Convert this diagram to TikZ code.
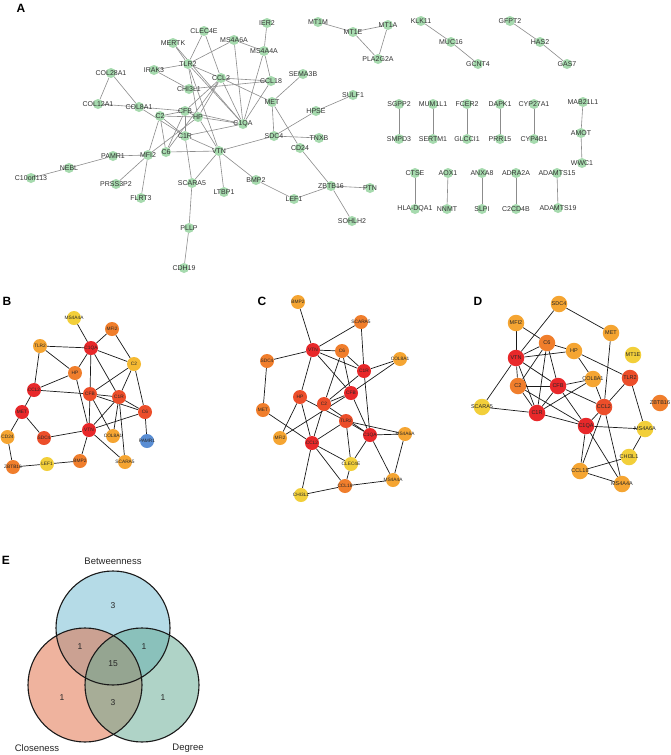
\documentclass[tikz,border=0pt]{standalone}
\usepackage{fontspec}
\setmainfont{Liberation Sans}
\pgfdeclarelayer{bg}
\pgfsetlayers{bg,main}
\definecolor{agreen}{HTML}{A6DAAE}
\definecolor{cR}{HTML}{E8282A}
\definecolor{cRO}{HTML}{EC4E2A}
\definecolor{cO}{HTML}{F07E2C}
\definecolor{cLO}{HTML}{F5A532}
\definecolor{cYO}{HTML}{F5BA32}
\definecolor{cY}{HTML}{F2CF3A}
\definecolor{cB}{HTML}{5A8ED4}
\definecolor{vblue}{HTML}{6DB9D1}
\definecolor{vred}{HTML}{E1693F}
\definecolor{vgreen}{HTML}{61A991}
\begin{document}
\begin{tikzpicture}[x=1pt,y=-1pt,
  acirc/.style={circle,fill=agreen,minimum size=10pt,inner sep=0pt},
  alabel/.style={font=\fontsize{7}{7}\selectfont,text=black!80,inner sep=0pt},
  aedge/.style={draw=black!45,line width=0.6pt},
  bcirc/.style={circle,minimum size=14pt,inner sep=0pt},
  dcirc/.style={circle,minimum size=16.5pt,inner sep=0pt},
  blabel/.style={font=\fontsize{4.8}{4.8}\selectfont,text=black!85,inner sep=0pt},
  dlabel/.style={font=\fontsize{5.5}{5.5}\selectfont,text=black!85,inner sep=0pt},
  nedge/.style={draw=black!90,line width=0.7pt},
  panel/.style={font=\bfseries\fontsize{12}{12}\selectfont,inner sep=0pt},
  vlabel/.style={font=\fontsize{9.5}{9.5}\selectfont,inner sep=0pt,text=black!85},
  vnum/.style={font=\fontsize{8.5}{8.5}\selectfont,inner sep=0pt,text=black!85}]
\useasboundingbox (0,0) rectangle (670,755);
\begin{pgfonlayer}{bg}
\fill[white] (0,0) rectangle (670,755);
\end{pgfonlayer}

% panel letters
\node[panel] (LA) at (21,8) {A};
\node[panel] (LB) at (7,301) {B};
\node[panel] (LC) at (262,301) {C};
\node[panel] (LD) at (478,301) {D};
\node[panel] (LE) at (6,560) {E};

% ---------------- Panel A ----------------
\foreach \n/\x/\y in {CLEC4E/204/31, MERTK/173/43, MS4A6A/234/40, IER2/267/23, MS4A4A/264/51, TLR2/188/64, IRAK3/154/70, COL28A1/111/73, CCL2/221/78, CCL18/271/81, SEMA3B/303/74, CHI3L1/189/89, MET/272/102, SULF1/353/95, COL12A1/98/104, COL8A1/139/107, CFB/185/111, C2/160/116, HP/198/117, C1QA/243/124, HPSE/316/111, C1R/185/136, SDC4/274/136, TNXB/319/138, CD24/300/148, VTN/219/151, C6/166/152, MFI2/148/155, PAMR1/113/156, NEBL/69/168, C10orf113/31/178, PRSS3P2/116/184, SCARA5/192/183, LTBP1/224/192, BMP2/256/180, FLRT3/141/198, LEF1/294/199, ZBTB16/331/186, PTN/370/188, SOHLH2/352/221, PLLP/189/228, CDH19/184/268,
MT1M/318/22, MT1E/353/32, MT1A/388/25, PLA2G2A/378/59, KLK11/421/21, MUC16/451/42, GCNT4/478/64, GFPT2/510/21, HAS2/540/42, GAS7/567/64, SGPP2/399/104, SMPD3/399/139, MUM1L1/433/104, SERTM1/433/139, FCER2/467/104, GLCCI1/467/139, DAPK1/500/104, PRR15/500/139, CYP27A1/534/104, CYP4B1/534/139, MAB21L1/583/102, AMOT/581/133, WWC1/582/163, CTSE/415/173, HLA-DQA1/415/209, AOX1/448/173, NNMT/447/209, ANXA8/482/173, SLPI/482/209, ADRA2A/516/173, C2CD4B/516/209, ADAMTS15/557/173, ADAMTS19/558/208}
  {\node[acirc] (A-\n) at (\x,\y) {};}
\foreach \n/\x/\y in {CLEC4E/204/31, MERTK/173/43, MS4A6A/234/40, IER2/267/23, MS4A4A/264/51, TLR2/188/64, IRAK3/154/70, COL28A1/111/73, CCL2/221/78, CCL18/271/81, SEMA3B/303/74, CHI3L1/189/89, MET/272/102, SULF1/353/95, COL12A1/98/104, COL8A1/139/107, CFB/185/111, C2/160/116, HP/198/117, C1QA/243/124, HPSE/316/111, C1R/185/136, SDC4/274/136, TNXB/319/138, CD24/300/148, VTN/219/151, C6/166/152, MFI2/148/155, PAMR1/113/156, NEBL/69/168, C10orf113/31/178, PRSS3P2/116/184, SCARA5/192/183, LTBP1/224/192, BMP2/256/180, FLRT3/141/198, LEF1/294/199, ZBTB16/331/186, PTN/370/188, SOHLH2/352/221, PLLP/189/228, CDH19/184/268,
MT1M/318/22, MT1E/353/32, MT1A/388/25, PLA2G2A/378/59, KLK11/421/21, MUC16/451/42, GCNT4/478/64, GFPT2/510/21, HAS2/540/42, GAS7/567/64, SGPP2/399/104, SMPD3/399/139, MUM1L1/433/104, SERTM1/433/139, FCER2/467/104, GLCCI1/467/139, DAPK1/500/104, PRR15/500/139, CYP27A1/534/104, CYP4B1/534/139, MAB21L1/583/102, AMOT/581/133, WWC1/582/163, CTSE/415/173, HLA-DQA1/415/209, AOX1/448/173, NNMT/447/209, ANXA8/482/173, SLPI/482/209, ADRA2A/516/173, C2CD4B/516/209, ADAMTS15/557/173, ADAMTS19/558/208}
  {\node[alabel] (A-\n-t) at (\x,\y) {\n};}
\begin{pgfonlayer}{bg}
\foreach \u/\v in {CLEC4E/TLR2, CLEC4E/CCL2, MERTK/TLR2, MERTK/C1QA, MS4A6A/TLR2, MS4A6A/MS4A4A, MS4A6A/C1QA, IER2/MS4A4A, MS4A4A/CCL18, MS4A4A/C1QA, TLR2/CCL2, TLR2/C1QA, TLR2/HP, TLR2/VTN, IRAK3/TLR2, IRAK3/CHI3L1, COL28A1/COL12A1, COL28A1/COL8A1, COL12A1/COL8A1, COL8A1/CFB, COL8A1/C1R, CCL2/CCL18, CCL2/MET, CCL2/C1QA, CCL2/CFB, CCL2/HP, CCL2/C6, CHI3L1/CCL18, CCL18/C1QA, MET/SEMA3B, MET/SDC4, MET/CD24, CD24/ZBTB16, SULF1/HPSE, HPSE/SDC4, SDC4/TNXB, SDC4/VTN, CFB/C2, CFB/HP, CFB/C1R, CFB/C6, CFB/C1QA, C2/HP, C2/C1R, C2/C6, C2/MFI2, HP/C1QA, HP/VTN, HP/MFI2, C1QA/C1R, C1R/VTN, C1R/SCARA5, C6/VTN, MFI2/PAMR1, MFI2/PRSS3P2, MFI2/FLRT3, PAMR1/NEBL, NEBL/C10orf113, VTN/SCARA5, VTN/LTBP1, VTN/BMP2, SCARA5/PLLP, PLLP/CDH19, BMP2/LEF1, LEF1/ZBTB16, ZBTB16/PTN, ZBTB16/SOHLH2, MT1M/MT1E, MT1E/MT1A, MT1E/PLA2G2A, MT1A/PLA2G2A, KLK11/MUC16, MUC16/GCNT4, GFPT2/HAS2, HAS2/GAS7, SGPP2/SMPD3, MUM1L1/SERTM1, FCER2/GLCCI1, DAPK1/PRR15, CYP27A1/CYP4B1, MAB21L1/AMOT, AMOT/WWC1, CTSE/HLA-DQA1, AOX1/NNMT, ANXA8/SLPI, ADRA2A/C2CD4B, ADAMTS15/ADAMTS19}
  {\draw[aedge] (A-\u) -- (A-\v);}
\end{pgfonlayer}

% ---------------- Panel B ----------------
\foreach \n/\x/\y/\c in {MS4A4A/74/318/cY, MFI2/112/329/cO, TLR2/40/346/cLO, C1QA/91/348/cR, C2/134/364/cYO, HP/75/373/cO, CCL2/34/390/cR, CFB/90/394/cRO, C1R/119/397/cRO, C6/145/412/cRO, MET/22/412/cR, VTN/89/430/cR, CD24/7.5/437/cLO, SDC4/44/438/cRO, COL8A1/113/436/cLO, PAMR1/147/441/cB, BMP2/80/461/cO, ZBTB16/13/467/cO, LEF1/47/464/cY, SCARA5/125/462/cLO}
  {\node[bcirc,fill=\c] (B-\n) at (\x,\y) {};
   \node[blabel] (B-\n-t) at (\x,\y) {\n};}
\begin{pgfonlayer}{bg}
\foreach \u/\v in {MS4A4A/C1QA, MFI2/C1QA, MFI2/C2, TLR2/C1QA, TLR2/HP, TLR2/CCL2, C1QA/C2, C1QA/HP, C1QA/CFB, C1QA/C1R, HP/CCL2, HP/VTN, C2/CFB, C2/C1R, C2/C6, CCL2/CFB, CCL2/MET, CFB/C1R, CFB/C6, CFB/VTN, CFB/COL8A1, C1R/C6, C1R/VTN, C1R/COL8A1, C1R/SCARA5, C6/VTN, C6/PAMR1, MET/CD24, MET/SDC4, SDC4/VTN, VTN/BMP2, VTN/SCARA5, BMP2/LEF1, LEF1/ZBTB16, CD24/ZBTB16}
  {\draw[nedge] (B-\u) -- (B-\v);}
\end{pgfonlayer}

% ---------------- Panel C ----------------
\foreach \n/\x/\y/\c in {BMP2/298/302/cLO, VTN/313/350/cR, SDC4/267/361/cO, SCARA5/361/322/cO, C6/342/351/cO, COL8A1/400/359/cLO, C1R/364/371/cR, CFB/351/393/cR, HP/300/397/cRO, C2/324/404/cRO, MET/263/410/cO, TLR2/346/421/cRO, MFI2/280/438/cLO, C1QA/370/435/cR, MS4A6A/405/434/cLO, CCL2/312/443/cR, CLEC4E/351/464/cY, MS4A4A/393/480/cLO, CCL18/345/486/cO, CHI3L1/301/495/cY}
  {\node[bcirc,fill=\c] (C-\n) at (\x,\y) {};
   \node[blabel] (C-\n-t) at (\x,\y) {\n};}
\begin{pgfonlayer}{bg}
\foreach \u/\v in {BMP2/VTN, SCARA5/VTN, SCARA5/C1R, SDC4/VTN, SDC4/MET, VTN/C6, VTN/C1R, VTN/CFB, VTN/HP, C6/C1R, C6/CFB, C6/C2, C1R/COL8A1, CFB/COL8A1, C1R/C2, C1R/C1QA, CFB/C2, CFB/C1QA, MFI2/HP, MFI2/CFB, HP/TLR2, HP/CCL2, C2/C1QA, C2/CCL2, MET/CCL2, TLR2/CCL2, TLR2/C1QA, TLR2/MS4A6A, TLR2/CLEC4E, C1QA/MS4A6A, C1QA/CLEC4E, C1QA/MS4A4A, MS4A6A/MS4A4A, CCL2/CLEC4E, CCL2/CCL18, CCL2/CHI3L1, CLEC4E/CCL18, CCL18/MS4A4A, CCL18/CHI3L1}
  {\draw[nedge] (C-\u) -- (C-\v);}
\end{pgfonlayer}

% ---------------- Panel D ----------------
\foreach \n/\x/\y/\c in {SDC4/559/304/cLO, MFI2/516/323/cLO, MET/611/333/cLO, C6/547/343/cO, HP/574/351/cLO, MT1E/633/355/cY, VTN/516/358/cR, TLR2/630/378/cRO, C2/518/386/cO, CFB/558/386/cR, COL8A1/593/379/cLO, ZBTB16/660/403/cO, SCARA5/482/407/cY, CCL2/604/407/cRO, C1R/537/413/cR, C1QA/586/426/cR, MS4A6A/645/429/cY, CHI3L1/629/457/cY, CCL18/580/471/cLO, MS4A4A/622/484/cLO}
  {\node[dcirc,fill=\c] (D-\n) at (\x,\y) {};
   \node[dlabel] (D-\n-t) at (\x,\y) {\n};}
\begin{pgfonlayer}{bg}
\foreach \u/\v in {SDC4/VTN, SDC4/MET, MFI2/VTN, MFI2/C6, C6/HP, MET/CCL2, VTN/C6, VTN/HP, VTN/C2, VTN/CFB, VTN/C1R, VTN/SCARA5, C6/C2, C6/CFB, C6/C1R, HP/COL8A1, HP/TLR2, C2/CFB, C2/C1R, C2/C1QA, CFB/COL8A1, CFB/CCL2, CFB/C1R, CFB/C1QA, COL8A1/C1R, COL8A1/CCL2, SCARA5/C1R, C1R/C1QA, CCL2/TLR2, CCL2/C1QA, CCL2/CCL18, CCL2/MS4A4A, TLR2/MS4A6A, C1QA/MS4A6A, C1QA/CCL18, C1QA/MS4A4A, MS4A6A/CHI3L1, CHI3L1/CCL18, CCL18/MS4A4A}
  {\draw[nedge] (D-\u) -- (D-\v);}
\end{pgfonlayer}

% ---------------- Panel E (Venn) ----------------
\fill[vblue,fill opacity=0.5] (113,628) circle (57pt);
\fill[vred,fill opacity=0.5] (85,685) circle (57pt);
\fill[vgreen,fill opacity=0.5] (142,685) circle (57pt);
\draw[black!90,line width=1.1pt] (113,628) circle (57pt);
\draw[black!90,line width=1.1pt] (85,685) circle (57pt);
\draw[black!90,line width=1.1pt] (142,685) circle (57pt);
\node[vlabel] (Ebet) at (113,561) {Betweenness};
\node[vlabel] (Eclo) at (37,748) {Closeness};
\node[vlabel] (Edeg) at (188,748) {Degree};
\node[vnum] (E1) at (113,606) {3};
\node[vnum] (E2) at (80,647) {1};
\node[vnum] (E3) at (144,647) {1};
\node[vnum] (E4) at (113,664) {15};
\node[vnum] (E5) at (62,698) {1};
\node[vnum] (E6) at (113,703) {3};
\node[vnum] (E7) at (163,698) {1};
\end{tikzpicture}
\end{document}
